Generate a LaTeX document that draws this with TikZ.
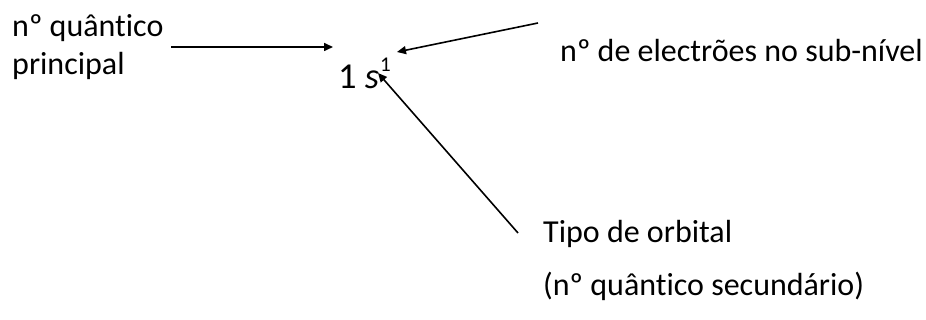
\documentclass[tikz,border=0pt]{standalone}
\usepackage{fontspec}
\setmainfont{Carlito}[Ligatures=CommonOff]
\usetikzlibrary{arrows.meta}

\begin{document}
\begin{tikzpicture}[
    x=1pt, y=-1pt,
    >={Triangle[length=9pt,width=8pt]},
    lbl/.style={inner sep=0pt, anchor=base west, align=left,
                font=\fontsize{32}{38}\selectfont},
    seta/.style={->, line width=1.6pt}
]

% Rahmen
\useasboundingbox (0,0) rectangle (926,320);

% Konfiguration
\node[inner sep=0pt, anchor=base west, font=\fontsize{36.5}{44}\selectfont]
    (conf) at (338,89) {1 \textit{s}};
\node[inner sep=0pt, anchor=base west, font=\fontsize{21}{25}\selectfont]
    (expo) at (380,72) {1};

% Beschriftungen (base = letzte Zeile)
\node[lbl] (principal) at (12,75) {nº quântico\\principal};
\node[lbl] (electroes) at (560,62) {nº de electrões no sub-nível};
\node[lbl] (tipo) at (543,295) {Tipo de orbital\\[14pt](nº quântico secundário)};

% Pfeile
\coordinate (p1) at (171,47);
\coordinate (p1e) at (333,47);
\coordinate (p2) at (538,23);
\coordinate (p2e) at (397,52);
\coordinate (p3) at (518,233);
\coordinate (p3e) at (378,73);

\draw[seta] (p1) -- (p1e);
\draw[seta] (p2) -- (p2e);
\draw[seta] (p3) -- (p3e);

\end{tikzpicture}
\end{document}
